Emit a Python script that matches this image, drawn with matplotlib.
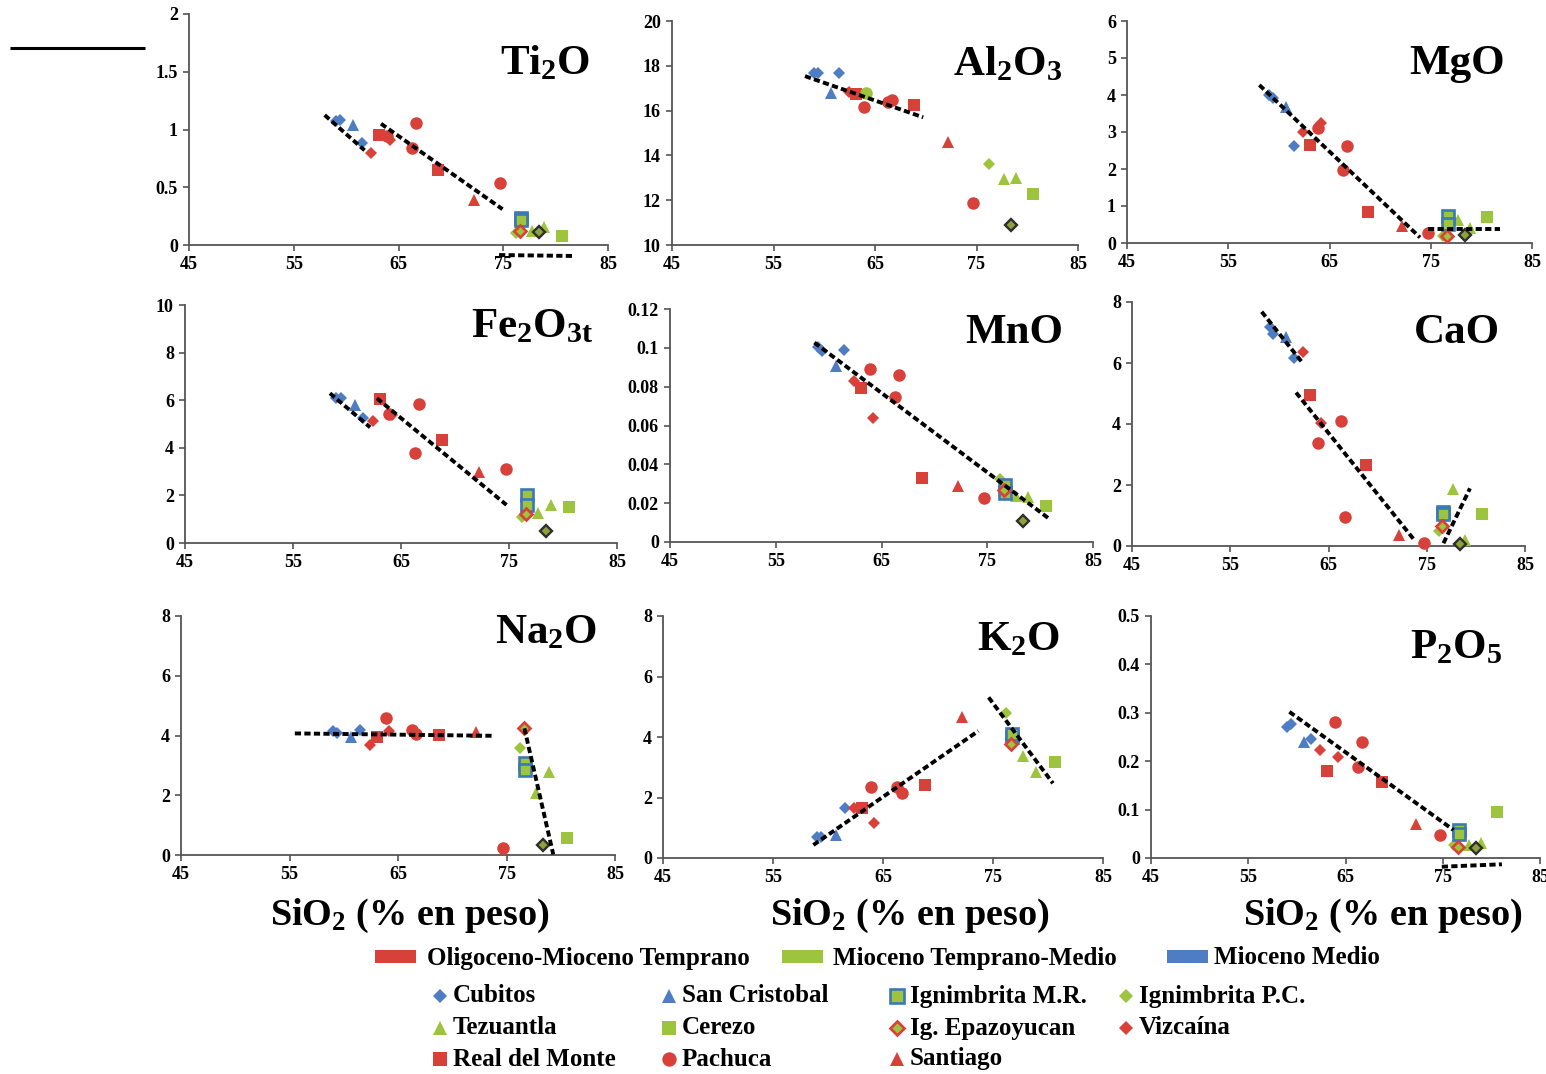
import numpy as np
import matplotlib
matplotlib.use("Agg")
import matplotlib.pyplot as plt
from matplotlib.patches import Rectangle

plt.rcParams["font.family"] = ["Liberation Serif", "DejaVu Serif"]
plt.rcParams["font.weight"] = "bold"
plt.rcParams["mathtext.fontset"] = "custom"
plt.rcParams["mathtext.rm"] = "Liberation Serif:bold"
plt.rcParams["mathtext.it"] = "Liberation Serif:bold"
plt.rcParams["mathtext.bf"] = "Liberation Serif:bold"

# ---------------------------------------------------------------- data
# SiO2 (wt %) of every sample, grouped by locality / unit
SIO2 = {
    "Cubitos": [59.0, 59.4, 61.5],
    "San Cristobal": [60.7],
    "Vizcaína": [62.4, 64.2],
    "Real del Monte": [63.1, 68.8],
    "Pachuca": [63.9, 66.3, 66.7, 74.7],
    "Santiago": [72.2],
    "Ignimbrita P.C.": [76.2],
    "Ig. Epazoyucan": [76.6],
    "Ignimbrita M.R.": [76.7, 76.7],
    "Tezuantla": [77.7, 78.9],
    "Otra muestra": [78.4],
    "Cerezo": [80.6],
}

nan = np.nan
TI2O = {"Cubitos": [1.07, 1.085, 0.88], "San Cristobal": [1.04], "Vizcaína": [0.80, 0.91],
        "Real del Monte": [0.95, 0.65], "Pachuca": [0.94, 0.84, 1.06, 0.54], "Santiago": [0.39],
        "Ignimbrita P.C.": [0.10], "Ig. Epazoyucan": [0.12], "Ignimbrita M.R.": [0.23, 0.22],
        "Tezuantla": [0.12, 0.16], "Otra muestra": [0.115], "Cerezo": [0.08]}
AL2O3 = {"Cubitos": [17.69, 17.66, 17.66], "San Cristobal": [16.8], "Vizcaína": [16.85, nan],
         "Real del Monte": [16.74, 16.25], "Pachuca": [16.15, 16.4, 16.47, 11.86], "Santiago": [14.61],
         "Ignimbrita P.C.": [13.6], "Ig. Epazoyucan": [nan], "Ignimbrita M.R.": [nan, nan],
         "Tezuantla": [12.95, 12.98], "Otra muestra": [10.88], "Cerezo": [12.28]}
MGO = {"Cubitos": [4.0, 3.91, 2.62], "San Cristobal": [3.67], "Vizcaína": [3.01, 3.23],
       "Real del Monte": [2.65, 0.85], "Pachuca": [3.12, 1.97, 2.62, 0.28], "Santiago": [0.46],
       "Ignimbrita P.C.": [0.19], "Ig. Epazoyucan": [0.19], "Ignimbrita M.R.": [0.73, 0.51],
       "Tezuantla": [0.62, 0.40], "Otra muestra": [0.22], "Cerezo": [0.71]}
FE2O3T = {"Cubitos": [6.1, 6.08, 5.24], "San Cristobal": [5.8], "Vizcaína": [5.12, 5.38],
          "Real del Monte": [6.04, 4.33], "Pachuca": [5.41, 3.8, 5.84, 3.11], "Santiago": [3.0],
          "Ignimbrita P.C.": [1.1], "Ig. Epazoyucan": [1.22], "Ignimbrita M.R.": [2.02, 1.6],
          "Tezuantla": [1.27, 1.6], "Otra muestra": [0.52], "Cerezo": [1.5]}
MNO = {"Cubitos": [0.1003, 0.0984, 0.0989], "San Cristobal": [0.0906], "Vizcaína": [0.0829, 0.0637],
       "Real del Monte": [0.0791, 0.0328], "Pachuca": [0.0889, 0.0748, 0.086, 0.0225],
       "Santiago": [0.0288], "Ignimbrita P.C.": [0.0323], "Ig. Epazoyucan": [0.027],
       "Ignimbrita M.R.": [0.0294, 0.0251], "Tezuantla": [0.0237, 0.0233],
       "Otra muestra": [0.011], "Cerezo": [0.0187]}
CAO = {"Cubitos": [7.19, 6.94, 6.15], "San Cristobal": [6.86], "Vizcaína": [6.35, 4.04],
       "Real del Monte": [4.95, 2.66], "Pachuca": [3.39, 4.11, 0.96, 0.11], "Santiago": [0.36],
       "Ignimbrita P.C.": [0.49], "Ig. Epazoyucan": [0.66], "Ignimbrita M.R.": [1.12, 1.05],
       "Tezuantla": [1.87, 0.2], "Otra muestra": [0.07], "Cerezo": [1.04]}
NA2O = {"Cubitos": [4.15, 4.07, 4.2], "San Cristobal": [3.96], "Vizcaína": [3.68, 4.15],
        "Real del Monte": [3.96, 4.01], "Pachuca": [4.57, 4.18, 4.04, 0.22], "Santiago": [4.12],
        "Ignimbrita P.C.": [3.59], "Ig. Epazoyucan": [4.24], "Ignimbrita M.R.": [3.09, 2.84],
        "Tezuantla": [2.06, 2.79], "Otra muestra": [0.33], "Cerezo": [0.56]}
K2O = {"Cubitos": [0.68, 0.70, 1.66], "San Cristobal": [0.76], "Vizcaína": [1.66, 1.17],
       "Real del Monte": [1.66, 2.41], "Pachuca": [2.34, 2.36, 2.16, nan], "Santiago": [4.65],
       "Ignimbrita P.C.": [4.8], "Ig. Epazoyucan": [3.77], "Ignimbrita M.R.": [4.01, 4.1],
       "Tezuantla": [3.37, 2.85], "Otra muestra": [nan], "Cerezo": [3.18]}
P2O5 = {"Cubitos": [0.271, 0.277, 0.245], "San Cristobal": [0.24], "Vizcaína": [0.223, 0.209],
        "Real del Monte": [0.18, 0.158], "Pachuca": [0.28, 0.187, 0.24, 0.0475], "Santiago": [0.07],
        "Ignimbrita P.C.": [0.027], "Ig. Epazoyucan": [0.022], "Ignimbrita M.R.": [0.058, 0.05],
        "Tezuantla": [0.026, 0.03], "Otra muestra": [0.02], "Cerezo": [0.096]}

# extra green circle plotted in the Al2O3 diagram
AL2O3_EXTRA_SIO2 = [64.1]
AL2O3_EXTRA = [16.78]

# dashed trend segments (x0, y0, x1, y1) in data units
TI2O_TRENDS = [(57.95, 1.125, 61.76, 0.82), (63.33, 1.05, 74.93, 0.31), (74.6, -0.087, 81.76, -0.095)]
AL2O3_TRENDS = [(58.1, 17.54, 69.75, 15.7)]
MGO_TRENDS = [(58.07, 4.27, 73.94, 0.15), (74.76, 0.37, 81.84, 0.37)]
FE2O3T_TRENDS = [(58.42, 6.29, 62.14, 4.86), (62.77, 6.08, 74.77, 1.6)]
MNO_TRENDS = [(58.65, 0.1027, 80.8, 0.0122)]
CAO_TRENDS = [(58.2, 7.68, 62.27, 6.04), (61.7, 5.03, 73.8, 0.17), (76.7, 0.09, 79.4, 1.89)]
NA2O_TRENDS = [(55.49, 4.07, 73.73, 3.99), (76.65, 4.24, 79.31, 0.02)]
K2O_TRENDS = [(58.67, 0.43, 73.67, 4.2), (74.6, 5.31, 80.45, 2.47)]
P2O5_TRENDS = [(59.23, 0.302, 76.1, 0.058), (74.9, -0.018, 81.08, -0.013)]

PERIODS = ["Oligoceno-Mioceno Temprano", "Mioceno Temprano-Medio", "Mioceno Medio"]
X_TICKS = [45, 55, 65, 75, 85]

# ---------------------------------------------------------------- styles
RED = "#D8403A"
GREEN = "#9CC43C"
BLUE = "#4F7DC4"
MR_EDGE = "#3C78B4"
DARK = "#2E2E2E"
OLIVE = "#8FA23A"

STYLE = {
    "Cubitos": dict(marker="D", ms=6.4, mfc=BLUE, mec=BLUE, mew=0),
    "San Cristobal": dict(marker="^", ms=9.2, mfc=BLUE, mec=BLUE, mew=0),
    "Vizcaína": dict(marker="D", ms=6.4, mfc=RED, mec=RED, mew=0),
    "Real del Monte": dict(marker="s", ms=8.8, mfc=RED, mec=RED, mew=0),
    "Pachuca": dict(marker="o", ms=9.0, mfc=RED, mec=RED, mew=0),
    "Santiago": dict(marker="^", ms=9.2, mfc=RED, mec=RED, mew=0),
    "Ignimbrita P.C.": dict(marker="D", ms=6.4, mfc=GREEN, mec=GREEN, mew=0),
    "Ig. Epazoyucan": dict(marker="D", ms=6.0, mfc=GREEN, mec=RED, mew=1.9),
    "Ignimbrita M.R.": dict(marker="s", ms=8.4, mfc=GREEN, mec=MR_EDGE, mew=1.9),
    "Tezuantla": dict(marker="^", ms=9.2, mfc=GREEN, mec=GREEN, mew=0),
    "Otra muestra": dict(marker="D", ms=6.0, mfc=OLIVE, mec=DARK, mew=1.7),
    "Cerezo": dict(marker="s", ms=8.8, mfc=GREEN, mec=GREEN, mew=0),
}
DRAW_ORDER = ["Cubitos", "San Cristobal", "Vizcaína", "Real del Monte", "Pachuca", "Santiago",
              "Ignimbrita P.C.", "Tezuantla", "Cerezo", "Ignimbrita M.R.", "Ig. Epazoyucan",
              "Otra muestra"]

W, H = 1546, 1074
fig = plt.figure(figsize=(W / 100, H / 100), dpi=100)
fig.patch.set_facecolor("white")


def px_axes(left, right, top, bottom):
    return fig.add_axes([left / W, 1 - bottom / H, (right - left) / W, (bottom - top) / H])


def fmt(v):
    return "0" if v == 0 else ("%g" % round(v, 4))


PANELS = [
    # (values, trends, ylim, ystep, title, pixel box, title anchor)
    (TI2O, TI2O_TRENDS, (0, 2), 0.5, "Ti$_2$O", (189, 608, 14, 245), (590, 74)),
    (AL2O3, AL2O3_TRENDS, (10, 20), 2, "Al$_2$O$_3$", (672, 1078, 21, 245), (1062, 75)),
    (MGO, MGO_TRENDS, (0, 6), 1, "MgO", (1127, 1532, 21, 243), (1505, 74)),
    (FE2O3T, FE2O3T_TRENDS, (0, 10), 2, "Fe$_2$O$_{\\mathrm{3t}}$", (185, 617, 305, 543), (593, 337)),
    (MNO, MNO_TRENDS, (0, 0.12), 0.02, "MnO", (670, 1093, 309, 542), (1063, 343)),
    (CAO, CAO_TRENDS, (0, 8), 2, "CaO", (1132, 1525, 302, 546), (1500, 343)),
    (NA2O, NA2O_TRENDS, (0, 8), 2, "Na$_2$O", (181, 615, 616, 855), (597, 643)),
    (K2O, K2O_TRENDS, (0, 8), 2, "K$_2$O", (663, 1103, 616, 858), (1060, 650)),
    (P2O5, P2O5_TRENDS, (0, 0.5), 0.1, "P$_2$O$_5$", (1151, 1540, 616, 858), (1502, 658)),
]

SPINE = "#555555"
for values, trends, ylim, ystep, title, box, tpos in PANELS:
    ax = px_axes(*box)
    ax.set_facecolor("none")
    ax.set_xlim(45, 85)
    ax.set_ylim(*ylim)
    for side in ("top", "right"):
        ax.spines[side].set_visible(False)
    for side in ("left", "bottom"):
        ax.spines[side].set_color(SPINE)
        ax.spines[side].set_linewidth(1.3)
    yt = np.arange(ylim[0], ylim[1] + ystep / 2, ystep)
    ax.set_yticks(yt)
    ax.set_yticklabels([fmt(v) for v in yt])
    ax.set_xticks(X_TICKS)
    ax.set_xticklabels([str(v) for v in X_TICKS])
    ax.tick_params(direction="out", length=4, width=1.2, color=SPINE, labelsize=13, pad=4)
    for lab in ax.get_xticklabels() + ax.get_yticklabels():
        lab.set_fontweight("bold")

    for name in DRAW_ORDER:
        ax.plot(SIO2[name], values[name], linestyle="none", clip_on=False, zorder=3, **STYLE[name])
    if values is AL2O3:
        ax.plot(AL2O3_EXTRA_SIO2, AL2O3_EXTRA, linestyle="none", marker="o", ms=9.0,
                mfc=GREEN, mec=GREEN, mew=0, zorder=3)

    for x0, y0, x1, y1 in trends:
        ax.plot([x0, x1], [y0, y1], color="black", lw=2.8, linestyle=(0, (1.6, 0.85)),
                clip_on=False, zorder=4, solid_capstyle="butt", dash_capstyle="butt")

    fig.text(tpos[0] / W, 1 - tpos[1] / H, title, ha="right", va="baseline",
             fontsize=31, fontweight="bold")

# x-axis captions under the bottom row
for cx in (410, 910, 1383):
    fig.text(cx / W, 1 - 925 / H, "SiO$_2$ (% en peso)", ha="center", va="baseline",
             fontsize=27.5, fontweight="bold")

# ---------------------------------------------------------------- legend
lg = fig.add_axes([0, 0, 1, 1])
lg.set_xlim(0, W)
lg.set_ylim(H, 0)
lg.axis("off")
lg.set_facecolor("none")

# short rule in the upper-left corner
lg.plot([10, 145], [48, 48], color="black", lw=2.2, solid_capstyle="butt")

PERIOD_COLORS = [RED, GREEN, BLUE]
for (px0, tx), name, col in zip([(375, 427), (782, 833), (1167, 1214)], PERIODS, PERIOD_COLORS):
    lg.add_patch(Rectangle((px0, 950), 41, 13, facecolor=col, edgecolor="none"))
    lg.text(tx, 958, name, fontsize=18, fontweight="bold", va="center", ha="left")

LEGEND_ROWS = [
    ["Cubitos", "San Cristobal", "Ignimbrita M.R.", "Ignimbrita P.C."],
    ["Tezuantla", "Cerezo", "Ig. Epazoyucan", "Vizcaína"],
    ["Real del Monte", "Pachuca", "Santiago"],
]
col_marker_x = [440, 669, 897, 1126]
row_y = [996, 1028, 1059]
for ry, row in zip(row_y, LEGEND_ROWS):
    for mx, name in zip(col_marker_x, row):
        st = dict(STYLE[name])
        st["ms"] = st["ms"] * 1.15
        lg.plot([mx], [ry], linestyle="none", **st)
        lg.text(mx + 13, ry, name, fontsize=18, fontweight="bold", va="center", ha="left")

fig.savefig("out.png", dpi=100, facecolor="white")
